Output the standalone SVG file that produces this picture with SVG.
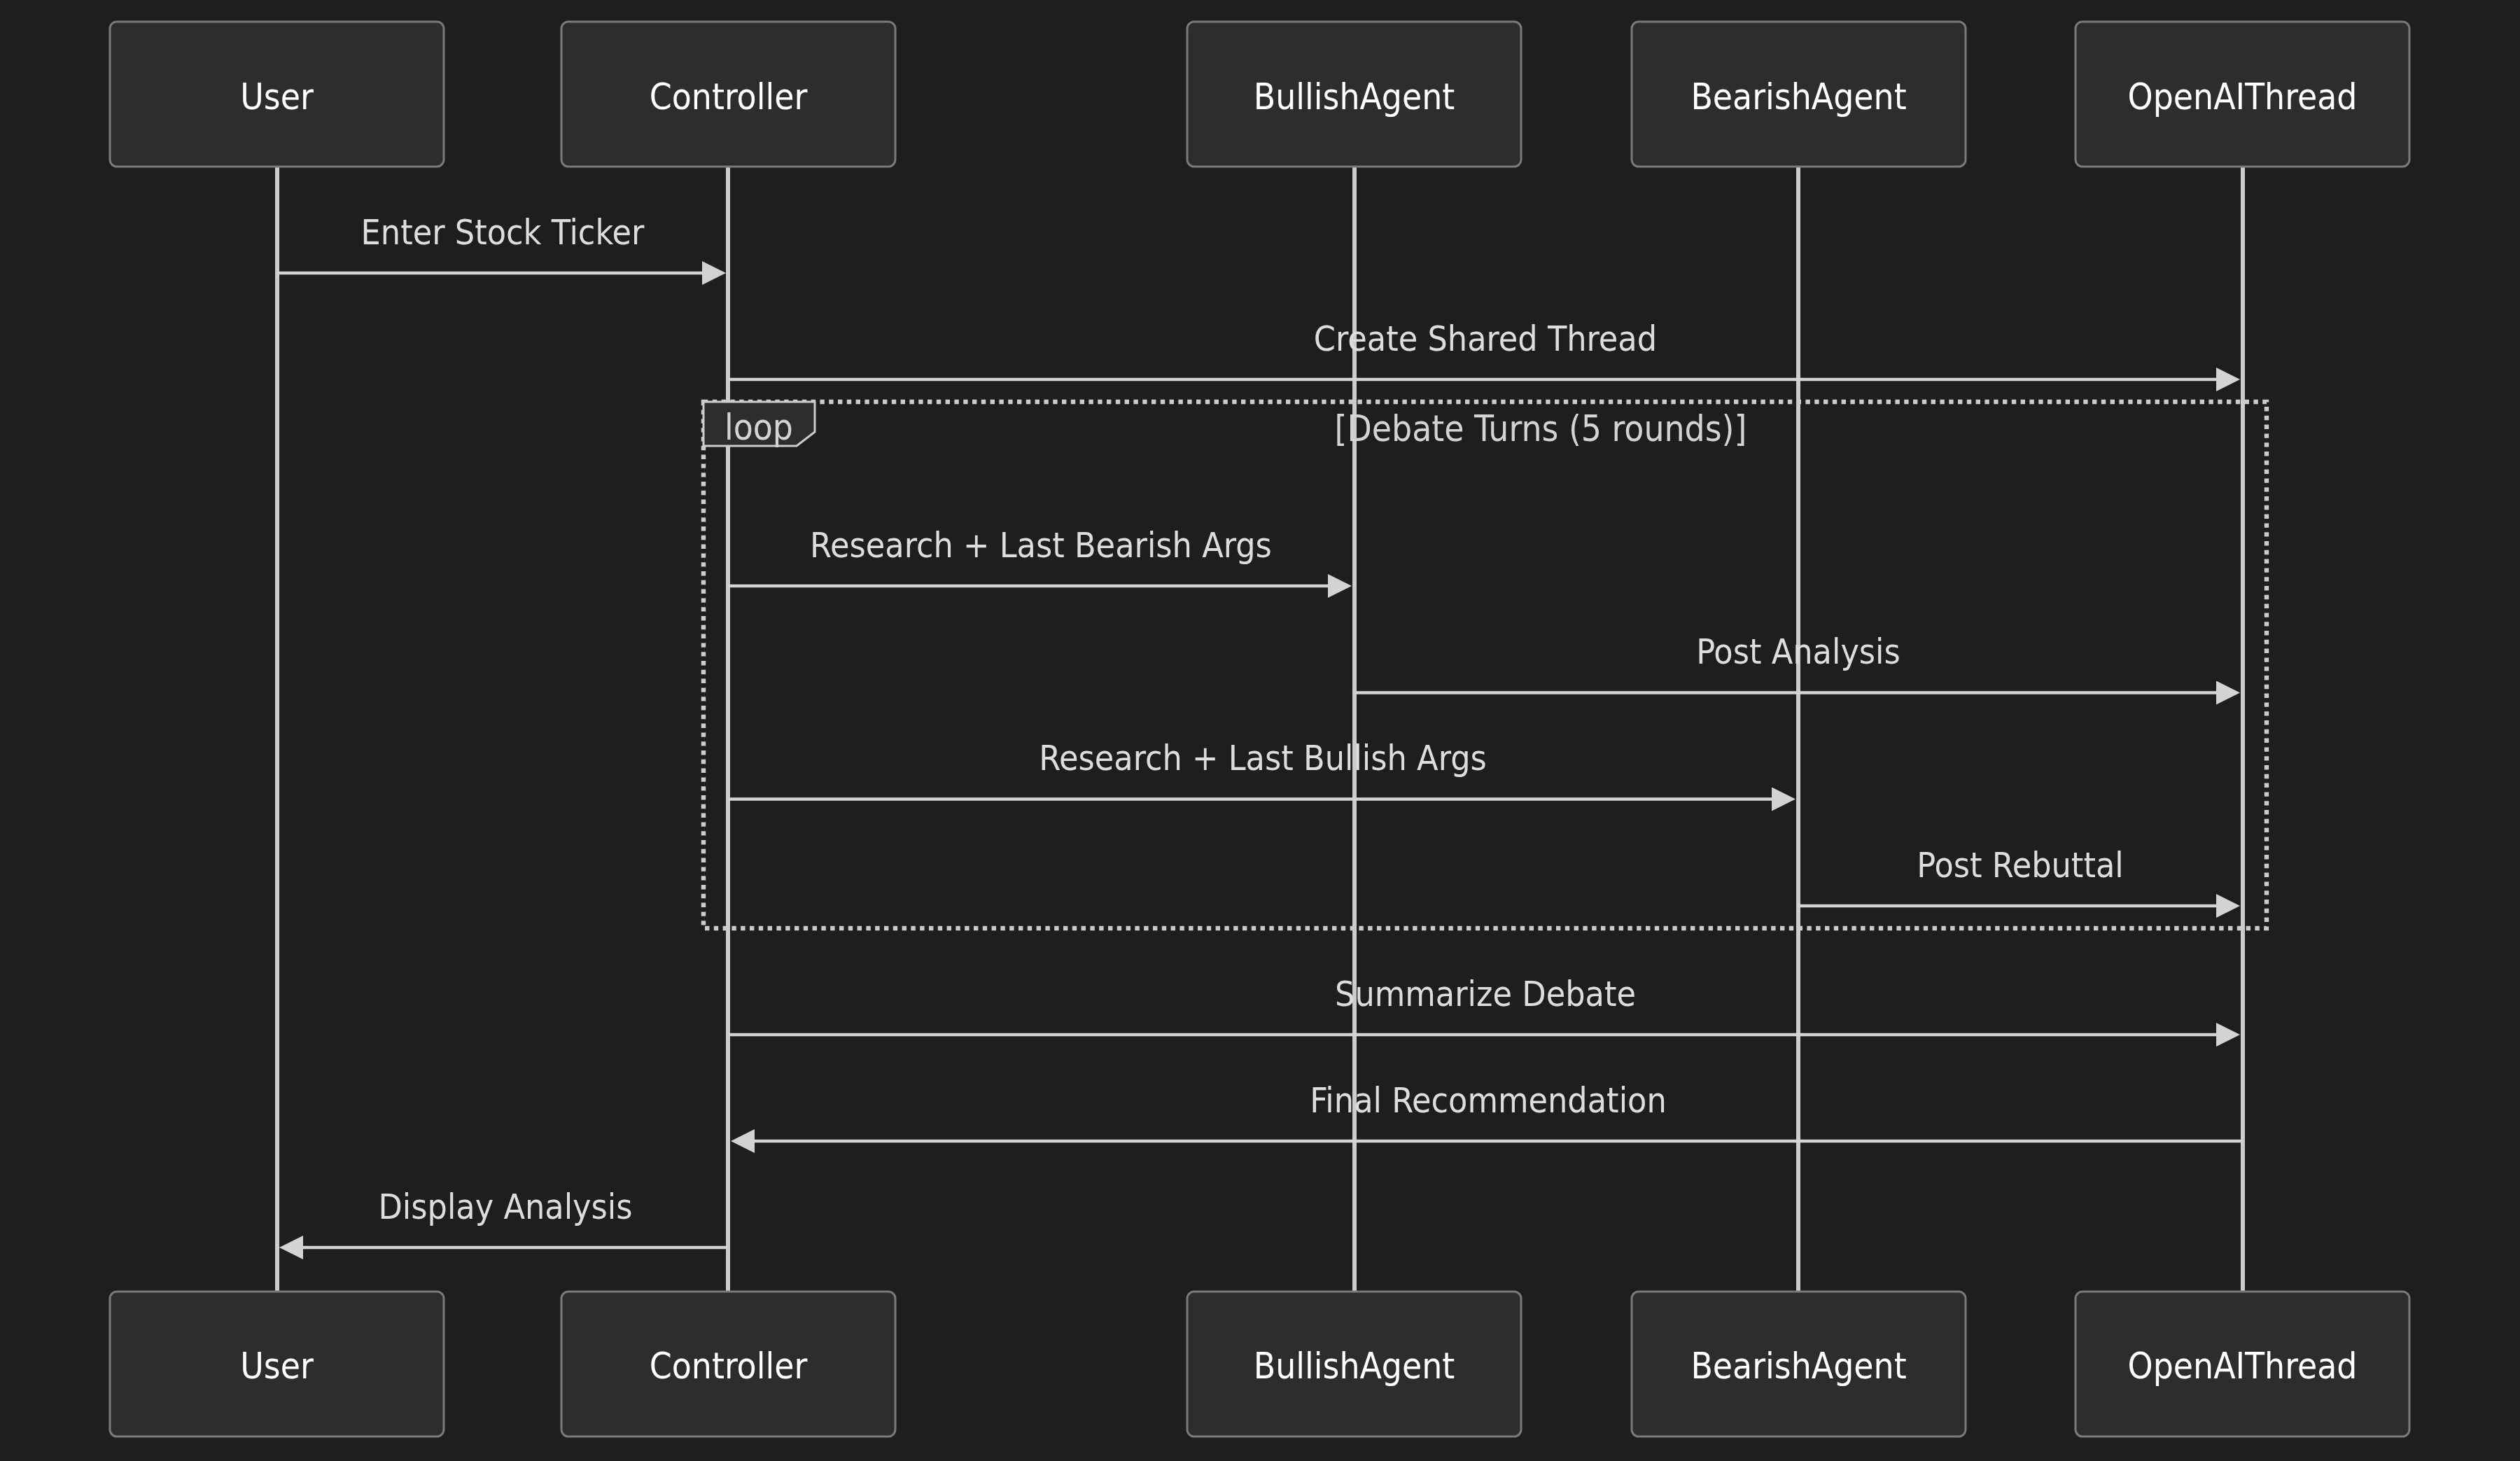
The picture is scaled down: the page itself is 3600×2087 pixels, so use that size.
<svg xmlns="http://www.w3.org/2000/svg" width="3600" height="2087" viewBox="0 0 3600 2087">
<defs>
<style>
.bg{fill:#1e1e1e}
.actor rect{fill:#2d2d2d;stroke:#7a7a7a;stroke-width:3}
.actor text{fill:#ffffff;font-family:"DejaVu Sans Condensed","DejaVu Sans",sans-serif;font-stretch:condensed;font-size:51px;text-anchor:middle}
.life{stroke:#cccccc;stroke-width:6}
.msg{stroke:#d3d3d3;stroke-width:4.5;fill:none;marker-end:url(#arrow)}
.mtext{fill:#dddddd;font-family:"DejaVu Sans Condensed","DejaVu Sans",sans-serif;font-stretch:condensed;font-size:49.7px;text-anchor:middle}
.loopline{stroke:#cccccc;stroke-width:6.4;stroke-dasharray:6.4 6.4;fill:none}
.looplabel{fill:#2d2d2d;stroke:#cccccc;stroke-width:3}
.looptext{fill:#d3d3d3;font-family:"DejaVu Sans Condensed","DejaVu Sans",sans-serif;font-stretch:condensed;font-size:51px;text-anchor:middle}
</style>
<marker id="arrow" markerUnits="userSpaceOnUse" markerWidth="40" markerHeight="40" refX="14" refY="17" orient="auto">
<path d="M0,0 L34,17 L0,34 z" fill="#d3d3d3"/>
</marker>
</defs>
<rect class="bg" x="0" y="0" width="3600" height="2087"/>

<g id="lifelines">
<line class="life" x1="396" y1="238" x2="396" y2="1845"/>
<line class="life" x1="1040" y1="238" x2="1040" y2="1845"/>
<line class="life" x1="1935" y1="238" x2="1935" y2="1845"/>
<line class="life" x1="2569" y1="238" x2="2569" y2="1845"/>
<line class="life" x1="3204" y1="238" x2="3204" y2="1845"/>
</g>

<g id="loop">
<rect class="loopline" x="1005" y="574" width="2233" height="752"/>
<polygon class="looplabel" points="1005,574 1164,574 1164,617 1138,637 1005,637"/>
<text class="looptext" x="1084" y="628">loop</text>
<text class="looptext" x="2201" y="630">[Debate Turns (5 rounds)]</text>
</g>

<g id="connectors">
<text class="mtext" x="718" y="349">Enter Stock Ticker</text>
<line class="msg" x1="396" y1="390" x2="1017" y2="390"/>
<text class="mtext" x="2122" y="501">Create Shared Thread</text>
<line class="msg" x1="1040" y1="542" x2="3180" y2="542"/>
<text class="mtext" x="1487" y="796">Research + Last Bearish Args</text>
<line class="msg" x1="1040" y1="837" x2="1911" y2="837"/>
<text class="mtext" x="2569" y="948">Post Analysis</text>
<line class="msg" x1="1935" y1="989.5" x2="3180" y2="989.5"/>
<text class="mtext" x="1804" y="1100">Research + Last Bullish Args</text>
<line class="msg" x1="1040" y1="1141.5" x2="2545" y2="1141.5"/>
<text class="mtext" x="2886" y="1253">Post Rebuttal</text>
<line class="msg" x1="2569" y1="1294" x2="3180" y2="1294"/>
<text class="mtext" x="2122" y="1437">Summarize Debate</text>
<line class="msg" x1="1040" y1="1478" x2="3180" y2="1478"/>
<text class="mtext" x="2126" y="1589">Final Recommendation</text>
<line class="msg" x1="3204" y1="1630" x2="1064" y2="1630"/>
<text class="mtext" x="722" y="1741">Display Analysis</text>
<line class="msg" x1="1040" y1="1782" x2="419" y2="1782"/>
</g>

<g id="actor-User-top" class="actor"><rect x="157" y="31" width="477" height="207" rx="10"/><text x="395.5" y="156">User</text></g>
<g id="actor-Controller-top" class="actor"><rect x="802" y="31" width="477" height="207" rx="10"/><text x="1040.5" y="156">Controller</text></g>
<g id="actor-BullishAgent-top" class="actor"><rect x="1696" y="31" width="477" height="207" rx="10"/><text x="1934.5" y="156">BullishAgent</text></g>
<g id="actor-BearishAgent-top" class="actor"><rect x="2331" y="31" width="477" height="207" rx="10"/><text x="2569.5" y="156">BearishAgent</text></g>
<g id="actor-OpenAIThread-top" class="actor"><rect x="2965" y="31" width="477" height="207" rx="10"/><text x="3203.5" y="156">OpenAIThread</text></g>

<g id="actor-User-bottom" class="actor"><rect x="157" y="1845" width="477" height="207" rx="10"/><text x="395.5" y="1969">User</text></g>
<g id="actor-Controller-bottom" class="actor"><rect x="802" y="1845" width="477" height="207" rx="10"/><text x="1040.5" y="1969">Controller</text></g>
<g id="actor-BullishAgent-bottom" class="actor"><rect x="1696" y="1845" width="477" height="207" rx="10"/><text x="1934.5" y="1969">BullishAgent</text></g>
<g id="actor-BearishAgent-bottom" class="actor"><rect x="2331" y="1845" width="477" height="207" rx="10"/><text x="2569.5" y="1969">BearishAgent</text></g>
<g id="actor-OpenAIThread-bottom" class="actor"><rect x="2965" y="1845" width="477" height="207" rx="10"/><text x="3203.5" y="1969">OpenAIThread</text></g>
</svg>
